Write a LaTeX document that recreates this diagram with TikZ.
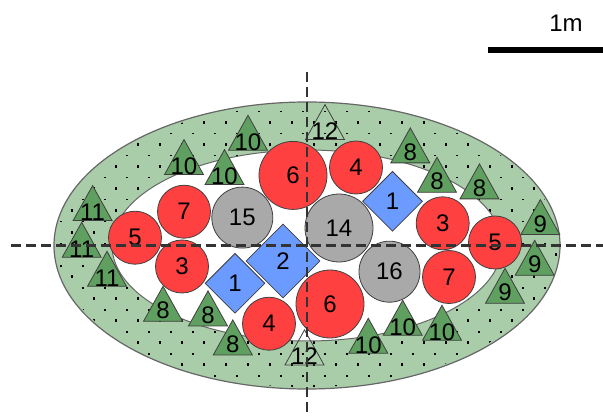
\documentclass[tikz,border=0pt]{standalone}
\usepackage{fontspec}
\setmainfont{Liberation Sans}
\usetikzlibrary{shapes.geometric}
\definecolor{ringgreen}{HTML}{A9CDA9}
\definecolor{trigreen}{HTML}{5F9F5F}
\definecolor{redcirc}{HTML}{FF4040}
\definecolor{greycirc}{HTML}{A9A9A9}
\definecolor{bluedia}{HTML}{6B9BFF}
\definecolor{edgegrey}{HTML}{404040}
\begin{document}
\begin{tikzpicture}
		[x=1pt,y=-1pt,
		num/.style={font=\fontsize{24}{24}\selectfont,text=black,inner sep=0pt},
		redc/.style={circle,draw=edgegrey,fill=redcirc,line width=.8pt,minimum size=53pt,inner sep=0pt,num},
		bigred/.style={redc,minimum size=68pt},
		greyc/.style={circle,draw=edgegrey,fill=greycirc,line width=.8pt,minimum size=61pt,inner sep=0pt,num},
		dia/.style={diamond,draw=edgegrey,fill=bluedia,line width=.8pt,minimum size=60pt,inner sep=0pt,num},
		tri/.style={isosceles triangle,isosceles triangle stretches,shape border rotate=90,draw=edgegrey,fill=trigreen,line width=.8pt,minimum width=39pt,minimum height=35pt,inner sep=0pt,anchor=lower side},
		openTri/.style={tri,fill=none},
		axis/.style={dash pattern=on 10pt off 5pt,line width=2.2pt,draw=black!80}
		]
		\useasboundingbox (0,0) rectangle (603,417);
		% ring
		\fill[ringgreen,draw=edgegrey!80,line width=1.2pt] (307,245.5) ellipse [x radius=253,y radius=143.5];
		\begin{scope}
		\clip (307,245.5) ellipse [x radius=251,y radius=141.5];
		\foreach \row in {0,...,26}{
			\pgfmathsetmacro{\ypos}{111.7+11*\row}
			\pgfmathsetmacro{\xoff}{mod(\row,2)==0 ? 16.7 : 5.7}
			\pgfmathsetmacro{\dotht}{mod(\row,2)==0 ? 1.6 : 2.6}
			\foreach \col in {0,...,27}{
				\fill[black] (\xoff+22*\col-1.2,\ypos-\dotht/2) rectangle ++(2.4,\dotht);
			}
		}
		\end{scope}
		\fill[white,draw=edgegrey!80,line width=1pt] (307,245.5) ellipse [x radius=195,y radius=95.5];

		% triangles
		\foreach \nm/\x/\y/\t/\up in {a/248/150.7/10/8.7,b/184/175/10/8.7,c/224.5/185/10/8.7,d/92.6/221/11/8.7,e/81.7/257.7/11/8.7,f/107/286.7/11/8.7,g/163/321.7/8/11,h/208/326.3/8/11,i/232.8/355.3/8/11,j/368.3/353.7/10/8.7,k/402.7/335.7/10/8.7,l/442/340.7/10/8.7,m/505/303.7/9/11,n/534.7/275.7/9/11,o/540.3/235/9/11,p/410.3/163.3/8/11,q/437/192.7/8/11,r/479.5/199.3/8/11}{
			\node[tri] (tri\nm) at (\x,\y) {};
			\node[num] (txt\nm) at (\x,\y-\up) {\t};
		}
		\node[openTri] (triTop) at (325,140) {};
		\node[num] (txtTop) at (325,131) {12};
		\node[openTri] (triLow) at (304.5,365.3) {};
		\node[num] (txtLow) at (304.5,356) {12};

		% circles
		\node[redc] (r5a) at (135,237.7) {5};
		\node[redc] (r7a) at (184,211.7) {7};
		\node[redc] (r3a) at (182,266.5) {3};
		\node[redc] (r4a) at (356,167.5) {4};
		\node[redc] (r3b) at (442.7,223.3) {3};
		\node[redc] (r5b) at (495,242.5) {5};
		\node[redc] (r7b) at (449,277) {7};
		\node[redc] (r4b) at (269,323.7) {4};
		\node[bigred] (r6a) at (293,175.4) {6};
		\node[bigred] (r6b) at (330,304) {6};
		\node[greyc] (g15) at (242.3,217.6) {15};
		\node[greyc,minimum size=68pt] (g14) at (339,228) {14};
		\node[greyc] (g16) at (389.5,271.7) {16};
		\node[dia] (d1a) at (392.5,201.3) {1};
		\node[dia] (d1b) at (235,283.3) {1};
		\node[dia,minimum size=74pt] (d2) at (283,261) {2};

		% axes
		\coordinate (hleft) at (11,245.5);
		\coordinate (hright) at (603,245.5);
		\coordinate (vtop) at (307,72);
		\coordinate (vbot) at (307,417);
		\draw[axis] (hleft) -- (hright);
		\draw[axis] (vtop) -- (vbot);

		% scale bar
		\coordinate (barl) at (488,50);
		\coordinate (barr) at (603,50);
		\draw[line width=6pt] (barl) -- (barr);
		\node[num] (scale) at (566,23) {1m};
	\end{tikzpicture}
\end{document}
